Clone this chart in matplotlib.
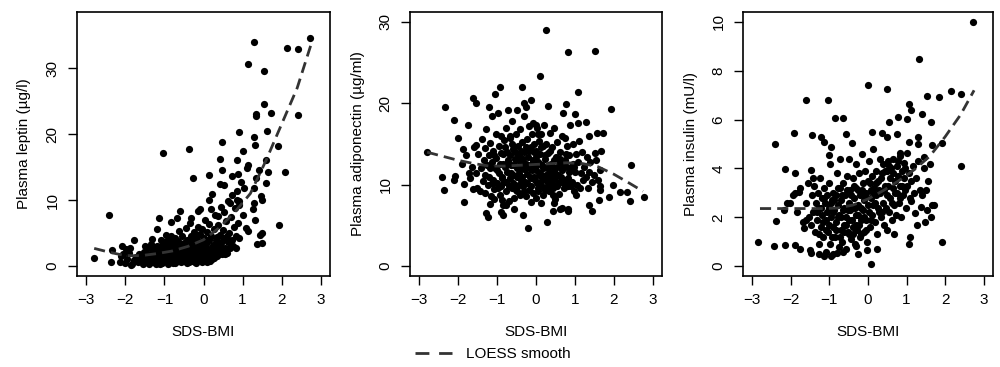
import numpy as np
import matplotlib
matplotlib.use("Agg")
import matplotlib.pyplot as plt
from matplotlib.lines import Line2D

plt.rcParams['font.family'] = ['Liberation Sans', 'DejaVu Sans']
plt.rcParams['font.size'] = 11

# --- data (SDS-BMI, value) ---
leptin_pts = [
    (-2.81, 1.2), (-2.41, 7.8), (-2.38, 0.6), (-2.35, 2.4), (-2.15, 0.6), (-2.11, 1.6),
    (-2.10, 3.1), (-1.98, 2.6), (-1.88, 2.7), (-1.78, 3.9), (-1.86, 0.2), (-1.03, 17.2),
    (-0.37, 17.7), (-0.27, 13.3), (0.14, 13.8), (0.43, 16.3), (0.48, 18.8), (0.47, 14.5),
    (0.90, 20.4), (1.01, 17.4), (1.30, 34.0), (1.15, 30.6), (1.54, 29.5), (1.55, 24.6),
    (1.34, 23.0), (1.34, 22.7), (1.72, 23.2), (1.63, 20.5), (1.29, 19.5), (1.32, 18.4),
    (1.90, 18.2), (2.15, 33.1), (2.42, 32.9), (2.73, 34.6), (2.41, 22.9), (1.94, 6.2),
    (2.09, 14.2), (0.87, 16.1), (1.13, 15.3), (1.12, 14.8), (0.89, 13.9), (0.73, 13.7),
    (1.03, 11.8), (0.96, 12.8), (1.29, 11.9), (1.35, 13.4), (1.42, 14.6), (1.60, 16.1),
    (1.65, 14.2), (1.59, 12.6), (1.46, 10.6), (1.49, 10.1), (1.30, 9.5), (1.27, 8.6),
    (1.33, 7.0), (1.37, 3.4), (1.51, 3.5), (1.44, 4.8), (1.50, 5.0), (1.13, 5.4),
    (1.08, 5.8), (1.00, 7.7), (0.90, 9.9), (0.85, 10.1), (0.67, 9.5), (0.52, 12.3),
    (0.42, 12.5), (0.36, 7.6), (0.21, 11.0), (0.15, 10.1), (0.18, 8.7), (-0.09, 8.6),
    (-0.15, 8.4), (-0.33, 7.3), (-0.61, 8.3), (-0.67, 7.3), (-0.83, 6.7), (-1.13, 7.3),
    (-1.20, 5.7), (-1.31, 4.1), (-1.50, 3.1),
    (-1.82, 0.4), (-1.78, 1.0), (-1.72, 1.4), (-1.68, 0.6), (-1.65, 1.9), (-1.60, 1.2),
    (-1.56, 0.4), (-1.52, 2.2), (-1.50, 1.6), (-1.46, 0.9), (-1.42, 2.8), (-1.40, 0.3),
    (-1.38, 1.4), (-1.35, 3.4), (-1.33, 2.0), (-1.30, 0.7), (-1.28, 1.1), (-1.25, 2.6),
    (-1.22, 0.4), (-1.20, 1.7), (-1.18, 3.0), (-1.15, 0.9), (-1.12, 2.2), (-1.10, 4.0),
    (-1.08, 1.3), (-1.06, 0.5), (-1.04, 2.8), (-1.02, 3.6), (-1.00, 1.8), (-0.98, 0.8),
    (-0.97, 4.8), (-0.95, 2.4), (-0.93, 3.2), (-0.92, 1.2), (-0.90, 0.4), (-0.88, 2.0),
    (-0.86, 3.9), (-0.85, 2.8), (-0.83, 1.5), (-0.82, 4.5), (-0.80, 0.9), (-0.78, 2.3),
    (-0.77, 3.4), (-0.75, 1.1), (-0.73, 4.2), (-0.72, 0.5), (-0.70, 2.7), (-0.68, 1.8),
    (-0.66, 3.8), (-0.65, 0.8), (-0.63, 5.3), (-0.62, 2.2), (-0.60, 1.4), (-0.58, 3.1),
    (-0.57, 0.6), (-0.55, 4.6), (-0.53, 2.0), (-0.52, 1.1), (-0.50, 3.5), (-0.48, 2.6),
    (-0.47, 0.9), (-0.45, 5.8), (-0.43, 1.6), (-0.42, 4.0), (-0.40, 2.3), (-0.38, 0.7),
    (-0.36, 3.0), (-0.35, 6.6), (-0.33, 1.9), (-0.31, 4.6), (-0.30, 1.0), (-0.28, 2.8),
    (-0.26, 3.8), (-0.25, 5.2), (-0.23, 0.6), (-0.21, 2.4), (-0.19, 4.3), (-0.18, 1.5),
    (-0.16, 3.3), (-0.14, 6.0), (-0.13, 0.9), (-0.11, 2.6), (-0.10, 4.9), (-0.08, 1.9),
    (-0.06, 3.6), (-0.05, 0.7), (-0.03, 5.6), (-0.02, 2.9), (0.00, 1.3), (0.02, 4.2),
    (0.03, 7.0), (0.05, 2.2), (0.07, 3.3), (0.08, 0.6), (0.10, 5.2), (0.12, 1.7),
    (0.13, 3.9), (0.15, 6.4), (0.17, 2.6), (0.19, 4.6), (0.22, 1.1), (0.24, 3.2),
    (0.26, 5.6), (0.28, 2.0), (0.30, 7.8), (0.32, 4.0), (0.34, 1.5), (0.36, 3.0),
    (0.38, 6.2), (0.40, 2.5), (0.42, 4.8), (0.44, 9.0), (0.46, 3.5), (0.48, 1.8),
    (0.50, 5.5), (0.52, 8.2), (0.54, 2.8), (0.56, 4.3), (0.58, 6.8), (0.60, 2.0),
    (0.62, 3.6), (0.64, 9.8), (0.66, 5.0), (0.68, 2.7), (0.70, 7.4), (0.72, 4.0),
    (0.74, 10.8), (0.76, 3.0), (0.78, 6.0), (0.80, 8.8), (0.82, 4.6), (0.84, 2.8),
    (0.86, 11.4), (0.88, 6.6), (0.90, 4.2), (0.92, 9.2), (-2.05, 1.8), (-1.95, 1.1),
    (-1.90, 2.0), (-2.00, 0.5),
    (-1.62, 0.8), (-1.55, 1.5), (-1.48, 0.6), (-1.44, 1.9), (-1.36, 0.9), (-1.32, 2.9),
    (-1.27, 1.6), (-1.23, 0.9), (-1.19, 2.3), (-1.14, 1.5), (-1.11, 0.3), (-1.07, 3.2),
    (-1.03, 1.1), (-0.99, 2.9), (-0.96, 1.5), (-0.94, 3.8), (-0.91, 2.6), (-0.87, 0.7),
    (-0.84, 3.3), (-0.81, 1.9), (-0.79, 0.5), (-0.76, 2.9), (-0.74, 1.6), (-0.71, 3.7),
    (-0.69, 1.2), (-0.67, 2.5), (-0.64, 1.6), (-0.61, 2.8), (-0.59, 0.9), (-0.56, 1.7),
    (-0.54, 3.0), (-0.51, 0.8), (-0.49, 1.9), (-0.46, 3.1), (-0.44, 1.3), (-0.41, 0.5),
    (-0.39, 3.4), (-0.37, 2.0), (-0.34, 1.3), (-0.32, 2.6), (-0.29, 0.8), (-0.27, 1.8),
    (-0.24, 3.0), (-0.22, 1.4), (-0.20, 0.5), (-0.17, 2.1), (-0.15, 1.0), (-0.12, 3.8),
    (-0.09, 1.5), (-0.07, 2.4), (-0.04, 0.9), (-0.01, 2.0), (0.01, 3.3), (0.04, 1.0),
    (0.06, 2.8), (0.09, 1.6), (0.11, 4.0), (0.14, 2.2), (0.16, 0.8), (0.20, 1.8),
    (0.23, 2.6), (0.27, 1.2), (0.31, 2.3), (0.35, 4.4), (0.39, 1.9), (0.43, 3.0),
    (0.47, 2.4), (0.51, 3.9), (0.55, 1.9), (0.59, 4.6),
]

adipo_pts = [
    (-2.81, 14.0), (-2.41, 10.9), (-2.36, 9.4), (-2.34, 19.5), (-2.12, 10.6), (-2.08, 11.1),
    (-2.11, 17.9), (-2.01, 15.8), (-1.88, 14.4), (-1.86, 10.1), (-1.86, 7.9), (-1.75, 17.3),
    (-1.72, 11.5), (-1.61, 20.7), (-1.55, 20.1), (-1.61, 9.5), (-1.55, 14.9), (-1.29, 6.5),
    (-1.24, 6.1), (-1.20, 19.5), (-1.05, 21.2), (-0.92, 22.0), (-0.90, 6.7), (-0.86, 6.3),
    (-0.37, 22.0), (-0.34, 6.3), (-0.20, 4.7), (0.10, 23.4), (0.26, 29.0), (0.30, 19.7),
    (0.29, 5.4), (0.83, 26.3), (1.51, 26.4), (1.07, 21.4), (0.77, 19.9), (1.92, 19.3),
    (1.00, 18.7), (1.07, 17.6), (1.28, 17.7), (0.69, 18.8), (1.73, 16.4), (1.58, 16.4),
    (1.35, 16.0), (1.66, 14.2), (1.52, 13.9), (2.44, 12.4), (2.77, 8.5), (2.42, 8.0),
    (2.35, 9.1), (2.15, 9.1), (1.97, 10.0), (1.87, 8.5), (1.65, 9.4), (1.65, 9.8),
    (1.61, 8.1), (1.43, 6.8), (1.37, 7.5), (1.33, 9.6), (1.04, 8.7), (0.82, 6.8),
    (0.82, 7.0), (0.66, 7.2), (0.61, 7.0), (0.48, 8.3), (0.46, 7.8), (0.43, 6.8),
    (0.12, 7.8), (-0.14, 7.9), (-0.56, 7.0), (-0.76, 7.5), (-0.87, 8.1), (-1.08, 8.2),
    (-1.18, 7.6), (-0.66, 16.0), (-0.31, 20.1), (-0.27, 19.6), (-0.13, 20.4), (-0.09, 17.6),
    (0.00, 17.4), (0.20, 17.3), (0.06, 16.2),
    (-1.48, 13.8), (-1.45, 9.2), (-1.42, 12.0), (-1.40, 15.6), (-1.37, 10.5), (-1.35, 13.0),
    (-1.32, 11.2), (-1.30, 14.5), (-1.30, 9.0), (-1.28, 16.9), (-1.26, 12.4), (-1.24, 10.0),
    (-1.22, 13.6), (-1.20, 11.0), (-1.18, 15.1), (-1.16, 8.6), (-1.14, 12.8), (-1.12, 18.5),
    (-1.10, 10.6), (-1.10, 14.2), (-1.08, 9.5), (-1.06, 12.0), (-1.04, 16.2), (-1.02, 13.3),
    (-1.00, 10.2), (-0.98, 18.8), (-0.96, 11.5), (-0.95, 14.8), (-0.93, 8.8), (-0.92, 12.6),
    (-0.90, 16.0), (-0.90, 9.8), (-0.88, 11.0), (-0.86, 13.8), (-0.85, 7.5), (-0.83, 15.5),
    (-0.82, 10.3), (-0.80, 12.2), (-0.78, 17.0), (-0.77, 9.2), (-0.75, 14.0), (-0.74, 11.6),
    (-0.72, 19.2), (-0.71, 13.0), (-0.70, 8.0), (-0.68, 10.8), (-0.66, 15.8), (-0.65, 12.4),
    (-0.63, 9.6), (-0.62, 17.8), (-0.60, 11.2), (-0.58, 14.4), (-0.57, 8.4), (-0.55, 13.2),
    (-0.54, 10.0), (-0.52, 16.2), (-0.50, 12.0), (-0.50, 19.2), (-0.48, 9.2), (-0.46, 14.8),
    (-0.45, 11.4), (-0.43, 13.6), (-0.42, 8.8), (-0.40, 16.8), (-0.38, 10.6), (-0.37, 12.8),
    (-0.35, 15.2), (-0.34, 9.8), (-0.32, 11.9), (-0.30, 18.4), (-0.30, 14.0), (-0.28, 10.4),
    (-0.26, 12.6), (-0.25, 8.6), (-0.23, 15.6), (-0.22, 11.3), (-0.20, 13.4), (-0.19, 9.4),
    (-0.17, 17.2), (-0.16, 12.0), (-0.14, 14.6), (-0.13, 10.8), (-0.11, 11.8), (-0.10, 16.2),
    (-0.08, 9.0), (-0.07, 13.0), (-0.05, 11.0), (-0.04, 15.0), (-0.02, 12.2), (0.00, 8.4),
    (0.00, 14.2), (0.02, 10.2), (0.03, 17.0), (0.05, 12.8), (0.06, 9.6), (0.08, 15.4),
    (0.09, 11.5), (0.10, 13.8), (0.12, 10.0), (0.14, 16.2), (0.15, 12.4), (0.17, 8.8),
    (0.18, 14.8), (0.20, 11.0), (0.22, 13.2), (0.23, 9.4), (0.25, 15.0), (0.27, 12.0),
    (0.28, 10.5), (0.32, 13.9), (0.34, 9.2), (0.35, 11.6), (0.37, 16.4), (0.38, 12.6),
    (0.40, 10.2), (0.42, 14.6), (0.44, 8.8), (0.45, 12.0), (0.47, 17.0), (0.48, 10.8),
    (0.52, 13.4), (0.54, 9.8), (0.55, 15.2), (0.57, 11.2), (0.59, 12.8), (0.60, 8.9),
    (0.62, 14.0), (0.64, 10.4), (0.66, 16.0), (0.68, 11.8), (0.72, 9.6), (0.74, 13.0),
    (0.75, 15.8), (0.77, 10.6), (0.79, 12.2), (0.80, 14.8), (0.82, 9.9), (0.84, 11.6),
    (0.86, 13.6), (0.88, 17.4), (0.92, 10.4), (0.94, 12.6), (0.96, 15.0), (0.98, 9.2),
    (1.00, 11.6), (1.02, 13.8), (1.05, 10.0), (1.08, 12.8), (1.10, 15.4), (1.12, 9.6),
    (1.15, 11.4), (1.18, 14.0), (1.20, 10.6), (1.24, 12.2), (1.28, 11.0), (1.30, 13.4),
    (1.35, 11.6), (1.40, 12.8), (1.45, 10.4), (1.50, 11.2), (1.55, 13.0), (1.60, 10.6),
    (1.65, 11.8), (-1.90, 12.5), (-1.80, 13.6), (-1.70, 10.8), (-1.65, 12.2), (-1.60, 14.6),
    (-1.55, 11.4), (-1.52, 9.6),
    (-1.19, 12.0), (-1.13, 10.2), (-1.07, 13.6), (-1.01, 11.8), (-0.97, 9.6), (-0.91, 13.9),
    (-0.87, 10.8), (-0.84, 12.6), (-0.79, 14.6), (-0.76, 10.4), (-0.73, 12.8), (-0.69, 9.8),
    (-0.67, 13.6), (-0.64, 11.4), (-0.61, 15.0), (-0.59, 10.2), (-0.56, 12.4), (-0.53, 14.0),
    (-0.51, 9.4), (-0.49, 11.0), (-0.47, 13.0), (-0.44, 10.0), (-0.41, 12.0), (-0.39, 14.2),
    (-0.36, 11.0), (-0.33, 13.2), (-0.31, 9.2), (-0.29, 12.0), (-0.27, 14.6), (-0.24, 10.2),
    (-0.21, 12.4), (-0.18, 14.2), (-0.15, 11.0), (-0.12, 9.8), (-0.09, 12.8), (-0.06, 14.0),
    (-0.03, 10.6), (-0.01, 11.8), (0.01, 13.4), (0.04, 9.2), (0.07, 11.2), (0.11, 12.6),
    (0.13, 14.6), (0.16, 10.6), (0.19, 12.0), (0.21, 9.6), (0.24, 13.6), (0.26, 11.2),
    (0.30, 10.0), (0.33, 12.4), (0.36, 14.2), (0.39, 11.0), (0.43, 9.6), (0.46, 13.0),
    (0.50, 11.4), (0.53, 12.2), (0.56, 10.2), (0.61, 13.2), (0.65, 11.0), (0.70, 12.4),
    (0.73, 10.2), (0.78, 13.8), (0.83, 10.8), (0.87, 12.0), (0.91, 9.8), (0.97, 12.2),
]

insulin_pts = [
    (-2.85, 0.98), (-2.43, 0.82), (-2.38, 1.84), (-2.41, 4.99), (-2.14, 0.85), (-2.14, 3.99),
    (-2.10, 2.58), (-2.03, 2.60), (-2.19, 2.30), (-1.91, 5.44), (-1.88, 3.83), (-1.89, 0.87),
    (-1.88, 3.00), (-1.78, 3.03), (-1.76, 0.71), (-1.60, 6.79), (-1.45, 5.37), (-1.47, 3.95),
    (-1.42, 3.60), (-1.50, 0.66), (-1.49, 0.55), (-1.65, 1.57), (-1.62, 1.91), (-1.04, 6.79),
    (-1.23, 5.30), (-1.14, 5.10), (-0.96, 4.89), (-0.85, 6.08), (-0.66, 6.08), (-1.02, 4.56),
    (-0.99, 4.18), (-0.72, 4.40), (-0.57, 5.40), (-0.42, 5.05), (0.00, 7.43), (0.49, 7.27),
    (0.10, 5.50), (0.37, 5.44), (0.48, 5.30), (0.74, 5.40), (0.55, 5.92), (0.77, 6.09),
    (1.00, 6.01), (1.07, 6.65), (1.11, 6.38), (1.33, 8.47), (1.41, 6.22), (1.54, 6.98),
    (1.84, 6.91), (2.15, 7.16), (2.40, 7.05), (2.73, 10.0), (2.40, 4.10), (1.93, 0.98),
    (1.63, 5.89), (1.65, 4.96), (1.91, 5.05), (1.29, 5.30), (1.30, 4.99), (1.46, 4.47),
    (1.06, 5.10), (1.00, 4.64), (0.83, 4.64), (0.94, 4.24), (1.11, 2.66), (1.08, 1.19),
    (1.07, 0.89), (1.26, 1.67), (1.48, 1.80), (1.63, 2.00), (1.52, 2.30), (1.65, 2.49),
    (1.72, 2.49), (1.37, 2.43), (1.22, 2.19), (0.08, 0.11), (0.24, 0.71), (-0.03, 0.66),
    (-0.25, 0.52), (-0.31, 0.82), (-0.66, 0.60), (-0.80, 0.55), (-0.97, 0.41), (-1.13, 0.41),
    (-1.28, 0.48), (0.67, 1.33), (0.49, 1.50),
    (-1.48, 1.7), (-1.45, 2.9), (-1.42, 2.2), (-1.40, 3.3), (-1.38, 1.4), (-1.35, 2.6),
    (-1.33, 1.9), (-1.30, 3.0), (-1.28, 2.4), (-1.26, 0.9), (-1.24, 3.6), (-1.22, 1.6),
    (-1.20, 2.8), (-1.18, 2.1), (-1.16, 1.2), (-1.14, 3.2), (-1.12, 2.6), (-1.10, 0.6),
    (-1.08, 1.9), (-1.06, 2.9), (-1.04, 1.4), (-1.02, 2.4), (-1.00, 3.4), (-0.98, 0.9),
    (-0.96, 2.0), (-0.94, 2.7), (-0.92, 1.6), (-0.90, 3.0), (-0.90, 0.5), (-0.88, 2.3),
    (-0.86, 1.2), (-0.84, 2.9), (-0.82, 1.8), (-0.80, 3.8), (-0.78, 2.5), (-0.76, 0.8),
    (-0.74, 2.1), (-0.72, 3.2), (-0.70, 1.5), (-0.70, 2.7), (-0.68, 1.0), (-0.66, 2.3),
    (-0.64, 3.4), (-0.62, 1.7), (-0.60, 2.9), (-0.58, 0.7), (-0.56, 2.0), (-0.54, 3.7),
    (-0.52, 1.4), (-0.50, 2.6), (-0.50, 4.4), (-0.48, 1.9), (-0.46, 3.1), (-0.44, 1.1),
    (-0.42, 2.4), (-0.40, 3.6), (-0.38, 1.6), (-0.36, 2.8), (-0.34, 0.9), (-0.32, 2.1),
    (-0.30, 4.2), (-0.30, 3.2), (-0.28, 1.5), (-0.26, 2.5), (-0.24, 3.8), (-0.22, 1.2),
    (-0.20, 2.9), (-0.18, 1.9), (-0.16, 4.6), (-0.14, 2.3), (-0.12, 3.4), (-0.10, 1.4),
    (-0.10, 2.7), (-0.08, 3.9), (-0.06, 1.9), (-0.04, 3.0), (-0.02, 1.0), (0.00, 2.5),
    (0.02, 4.3), (0.04, 3.4), (0.06, 1.6), (0.08, 2.8), (0.10, 3.7), (0.10, 2.1),
    (0.12, 4.8), (0.14, 2.5), (0.16, 3.2), (0.18, 1.8), (0.20, 3.9), (0.22, 2.9),
    (0.24, 1.3), (0.26, 3.5), (0.28, 2.2), (0.30, 4.4), (0.32, 3.0), (0.34, 2.0),
    (0.36, 3.8), (0.38, 2.6), (0.40, 4.2), (0.42, 1.7), (0.44, 3.3), (0.46, 2.4),
    (0.48, 3.9), (0.50, 2.9), (0.52, 4.3), (0.54, 2.2), (0.56, 3.6), (0.58, 2.8),
    (0.60, 4.0), (0.62, 1.9), (0.64, 3.2), (0.66, 4.4), (0.68, 2.5), (0.70, 3.5),
    (0.72, 2.1), (0.74, 4.1), (0.76, 3.0), (0.78, 3.7), (0.80, 2.6), (0.82, 4.5),
    (0.84, 3.3), (0.86, 2.0), (0.88, 3.9), (0.90, 2.9), (0.93, 3.6), (0.96, 4.0),
    (0.99, 2.4), (1.02, 3.3), (1.05, 3.8), (1.08, 2.8), (1.12, 3.5), (1.16, 4.1),
    (1.20, 3.0), (1.25, 3.6), (1.30, 4.3), (1.35, 3.1), (1.40, 2.9), (1.45, 4.0),
    (1.50, 3.1), (1.55, 3.5), (1.60, 4.2), (-1.95, 2.9), (-1.85, 2.2), (-1.75, 3.2),
    (-1.68, 1.8), (-1.60, 2.6), (-1.55, 3.4), (-1.52, 2.0),
    (-1.31, 2.2), (-1.27, 1.3), (-1.21, 2.4), (-1.17, 1.8), (-1.13, 2.8), (-1.09, 1.5),
    (-1.05, 2.2), (-1.01, 1.7), (-0.97, 2.6), (-0.93, 1.2), (-0.91, 2.2), (-0.87, 2.7),
    (-0.83, 1.5), (-0.79, 2.0), (-0.77, 3.2), (-0.73, 1.2), (-0.69, 2.0), (-0.67, 2.9),
    (-0.63, 1.4), (-0.61, 2.4), (-0.57, 1.7), (-0.55, 3.1), (-0.53, 2.3), (-0.49, 1.3),
    (-0.47, 2.3), (-0.45, 2.9), (-0.41, 1.9), (-0.39, 1.3), (-0.37, 3.3), (-0.33, 2.4),
    (-0.31, 1.7), (-0.27, 2.1), (-0.25, 3.1), (-0.23, 1.7), (-0.19, 2.4), (-0.17, 1.3),
    (-0.15, 3.1), (-0.11, 2.0), (-0.07, 2.9), (-0.05, 1.5), (-0.01, 3.5), (0.03, 2.2),
    (0.07, 3.1), (0.09, 1.9), (0.13, 3.0), (0.17, 2.6), (0.21, 3.4), (0.25, 2.4),
    (0.29, 3.1), (0.33, 3.6), (0.37, 2.2), (0.41, 3.1), (0.45, 3.9), (0.51, 3.3),
    (0.55, 4.1), (0.61, 2.6), (0.65, 3.8), (0.71, 3.0), (0.77, 4.3), (0.83, 2.8),
    (0.89, 3.3), (0.95, 3.1),
]

# LOESS curves
loess_x = [-2.8, -2.4, -2.0, -1.6, -1.2, -0.8, -0.4, 0.0, 0.4, 0.8, 1.2, 1.6, 2.0, 2.4, 2.75]
leptin_loess = [2.7, 2.1, 1.6, 1.6, 1.9, 2.3, 3.0, 4.0, 5.8, 8.2, 11.0, 16.0, 21.5, 27.0, 33.5]
adipo_loess = [14.0, 13.5, 13.0, 12.6, 12.3, 12.3, 12.4, 12.5, 12.6, 12.7, 12.6, 12.2, 11.3, 10.2, 9.2]
insulin_loess = [2.36, 2.36, 2.36, 2.36, 2.36, 2.38, 2.5, 2.75, 3.1, 3.5, 3.95, 4.5, 5.3, 6.2, 7.2]

panels = [
    (leptin_pts, leptin_loess, "Plasma leptin (\u00b5g/l)", (0, 37), [0, 10, 20, 30]),
    (adipo_pts, adipo_loess, "Plasma adiponectin (\u00b5g/ml)", (0, 30), [0, 10, 20, 30]),
    (insulin_pts, insulin_loess, "Plasma insulin (mU/l)", (0, 10), [0, 2, 4, 6, 8, 10]),
]
lefts = [0.077, 0.410, 0.743]
widths = [0.253, 0.252, 0.250]
line_col = '#333333'

fig = plt.figure(figsize=(10, 3.67), dpi=100, facecolor='white')

for (pts, curve, ylab, ylim, yticks), left, w in zip(panels, lefts, widths):
    ax = fig.add_axes([left, 0.248, w, 0.719])
    xs = [p[0] for p in pts]
    ys = [p[1] for p in pts]
    ax.scatter(xs, ys, s=27, color='black', linewidths=0, zorder=2)
    ax.plot(loess_x, curve, color=line_col, lw=2.0, dashes=(4, 2.2), zorder=3)

    # R-style ranges: 4% padding around the limits
    pad_y = (ylim[1] - ylim[0]) * 0.04
    ax.set_xlim(-3.24, 3.24)
    ax.set_ylim(ylim[0] - pad_y, ylim[1] + pad_y)
    ax.set_xticks([-3, -2, -1, 0, 1, 2, 3])
    ax.set_yticks(yticks)
    ax.tick_params(direction='out', length=6.5, width=1, pad=6, labelsize=11)
    plt.setp(ax.get_yticklabels(), rotation=90, va='center')
    for sp in ax.spines.values():
        sp.set_linewidth(1.2)

    ax.set_xlabel("SDS-BMI", fontsize=11)
    ax.set_ylabel(ylab, fontsize=11)
    ax.xaxis.set_label_coords(0.5, -0.185)
    ax.yaxis.set_label_coords(-0.18, 0.5)

handle = Line2D([], [], color=line_col, lw=2.0, dashes=(5, 3.5))
fig.legend([handle], ["LOESS smooth"], loc='center', bbox_to_anchor=(0.493, 0.035),
           frameon=False, fontsize=11, handlelength=2.4, handletextpad=0.9)

fig.savefig("out.png", dpi=100, facecolor='white')
